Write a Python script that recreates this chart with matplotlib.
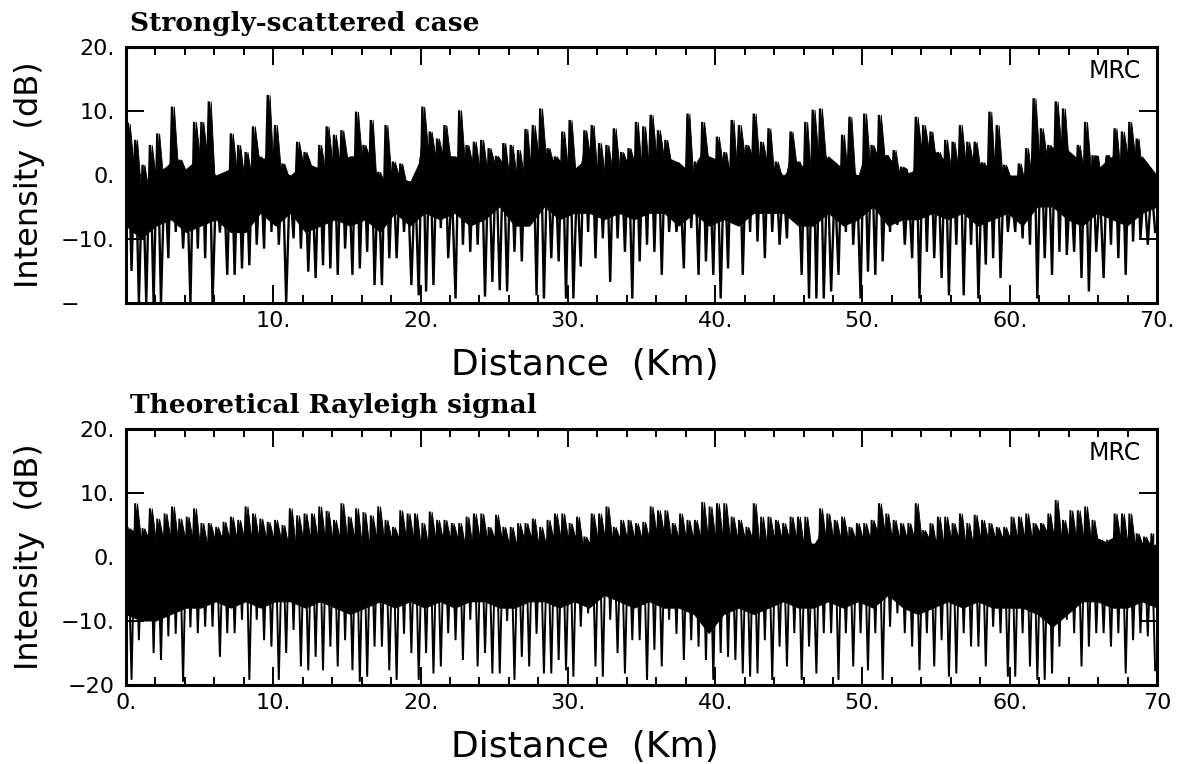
import matplotlib
matplotlib.use("Agg")
import matplotlib.pyplot as plt
from matplotlib.ticker import MultipleLocator
import numpy as np

# intensity (dB): max and min of the trace in each 0.5 km block, 0-70 km
top_hi = [8, 5.5, 1.6, 4.7, 6.5, 1, 10.7, 2.4, 0, 8.3,
          8.3, 11.5, -0.8, 0, 6.5, 4.7, 3.6, 7.6, 2.1, 12.5,
          7.8, 1.8, -1, 5.2, 3.6, 0, 4.7, 7.6, 6.3, 7.0,
          0.5, 9.9, 4.7, 8.6, 0.5, 7.8, 2.1, 1.8, -1, -0.3,
          10.7, 6.8, 5.7, 7.8, -2, 10.1, 4.7, 5.2, 5.5, 4.2,
          3, 5, 4.7, 3.9, 7.2, 7.8, 10.4, 4.2, 2.9, 6.8,
          8.6, 0, 7, 7.8, 5, 4.7, 7.3, 3.6, 4.2, 8.3,
          7.6, 9.4, 7, 5.5, -0.8, -1.6, 9.6, 2.1, 8.3, 2.1,
          6, 3.6, 8.6, 7.8, 4.7, 9.6, 5.2, 7.3, 2.1, -0.5,
          6.8, 2.1, 8.3, 10.2, 10.4, 2, -1, 6.3, 9.1, 0,
          9.6, 4.7, 9.4, 3.1, 3.9, 1.3, -1, 9.1, 7.8, 6.8,
          3.6, 5.5, 5.2, 7.8, 5.2, 5.2, 2, 9.9, 7.8, 1.6,
          -3, 1.8, 4.2, 12, 7.3, 4.7, 11.5, 10.4, -0.5, 4.7,
          8.3, 3.1, -2.1, 3.1, 7.3, 6.8, 8.3, 5.7, -1.6, -1.6]
top_lo = [-15, -20, -20, -20, -20, -13, -8.9, -11.5, -20, -11.5,
          -13, -20, -9, -15.6, -15.6, -14.6, -14.1, -10.9, -11.5, -8.9,
          -10.9, -20, -9.9, -11.5, -15.1, -16.1, -14.1, -14.6, -15.6, -11.5,
          -15.6, -14.6, -12, -17.2, -17.2, -13, -13, -8.9, -17.2, -18.8,
          -18.2, -17.2, -8.3, -13, -19.3, -10.9, -12, -10.9, -19, -16.7,
          -18, -18.2, -12, -13.5, -6.8, -18.8, -19.3, -13, -13.5, -19.3,
          -19.3, -14.3, -8.9, -13, -9.9, -16.7, -9.9, -12, -19.3, -13.5,
          -10.9, -12, -15.6, -8.9, -8.9, -14.6, -8.3, -15.6, -13.5, -15.6,
          -19.3, -14.6, -6, -15.6, -8.9, -10.4, -13, -8.9, -10.9, -9.9,
          -6.8, -15.6, -19.3, -19.3, -19.3, -18.2, -15.6, -8.9, -10.9, -19.3,
          -15.1, -15.6, -13.5, -8.9, -7.8, -10.9, -13, -19.3, -12, -13,
          -16.1, -18.8, -10.9, -18.8, -10.9, -19.3, -14, -13, -16.1, -8.9,
          -8.9, -9.9, -10.9, -19.3, -13, -15.6, -12, -12.5, -12, -16.1,
          -18.2, -12, -16.1, -10.9, -13, -15.6, -10.4, -9.9, -10.9, -8.9]
# solid black core of the trace, per 1 km
top_core_hi = [2, -2, 0, 2, 1, 3, 0, 1, 0, 3, 1, 0, 2, 1, 2, 3, 3, -1, 0, -1,
               4, 3, 3, 2, 1, 2, 0, 0, 3, 2, 1, 3, 0, 1, 2, 1, 3, 2, 0, 3,
               2, 0, 3, 2, 0, 2, 0, 3, 1, 0, 2, 3, 0, 1, 4, 2, 1, 2, 1, 0,
               0, -1, 3, 4, 2, 1, 3, 1, 3, 0]
top_core_lo = [-8, -10, -8, -7, -9, -8, -7, -9, -9, -6, -8, -6, -9, -8, -7, -8, -7, -9, -6, -8,
               -6, -7, -6, -8, -7, -5, -8, -8, -5, -7, -6, -6, -7, -6, -7, -6, -6, -8, -6, -8,
               -7, -8, -6, -6, -6, -8, -8, -6, -8, -7, -5, -8, -7, -7, -6, -7, -6, -8, -7, -6,
               -8, -5, -5, -7, -8, -6, -7, -8, -6, -5]

bot_hi = [4.5, 8.4, 4.5, 7.6, 6, 6.8, 7.9, 6, 6.3, 7.6,
          5.3, 5.3, 4.7, 5.5, 6.3, 5.8, 7.9, 6.8, 6, 5.5,
          5.8, 5, 7.6, 6.5, 6.8, 6.8, 7.9, 7.2, 5.8, 8.4,
          6.3, 7.6, 7.0, 6.5, 7.9, 5.8, 4.7, 7.3, 6.8, 6.8,
          5.3, 7.1, 5.8, 5.8, 5.3, 5.3, 6.3, 6.8, 6.8, 4.7,
          6.6, 4.7, 4.7, 5.3, 5.3, 6, 4.7, 5.8, 6.8, 6.8,
          5.3, 6.3, 3.2, 6.8, 6.8, 7.9, 4.7, 5.8, 5.8, 5.3,
          5.5, 7.9, 7.3, 7.3, 5.3, 6.8, 5.8, 5.8, 8.6, 7.9,
          8.4, 8.4, 6.3, 5.8, 4.7, 8.4, 6.3, 6.3, 5.8, 5.3,
          6.3, 6.3, 6.3, 2.1, 7.6, 6.8, 5.8, 6.3, 4.7, 5.3,
          5.3, 5.8, 8.4, 6.8, 5.8, 5.3, 5.3, 8.4, 4.2, 5.3,
          6.3, 6.3, 5.3, 6.8, 5.3, 6.6, 5.8, 5.3, 4.7, 4.7,
          6.3, 6.3, 6.8, 5.3, 5.3, 6.8, 8.9, 5.8, 7.3, 7.3,
          7.9, 5.8, 2.7, 2.7, 6.8, 6.8, 6.8, 3.7, 3.2, 3.7]
bot_lo = [-19.2, -13, -8.8, -15, -16.1, -12.4, -12, -19.5, -11, -11.9,
          -10.9, -10.9, -15.6, -11.9, -11.9, -9.8, -19.2, -9.8, -13, -14,
          -19.2, -15, -11.4, -17.1, -17.7, -15.6, -17.7, -14, -17.1, -13,
          -17.7, -19.5, -18.7, -14, -14, -17.7, -19.2, -12, -15, -19.2,
          -15, -18.2, -17.1, -11.9, -13, -16.1, -9.8, -17.1, -15, -18.2,
          -18.2, -10, -19.2, -15.6, -17.1, -12, -18.2, -18.2, -16.1, -17.7,
          -18.7, -10.9, -8.8, -17.1, -18.7, -9.8, -15, -18.2, -13, -13,
          -19.2, -14.5, -17.1, -9.8, -12, -16.1, -13, -14, -16.1, -19.2,
          -15, -15.6, -16.1, -18.2, -18.7, -18.2, -13, -19.2, -14, -17.1,
          -11.9, -19.2, -14, -18.2, -11.9, -11.9, -19.2, -11.9, -17.1, -11.9,
          -17.7, -11.9, -19.2, -10.9, -8.8, -11.9, -14, -17.7, -11.9, -17.1,
          -13, -18.7, -18.2, -11.9, -14, -14, -17.1, -10.9, -11.9, -18.7,
          -18.7, -11.9, -17.1, -19.2, -19.2, -18.2, -14, -9.8, -11.9, -17.1,
          -14, -11.9, -11.9, -14, -11.9, -18.2, -13, -11.9, -12.4, -17.7]
bot_core_hi = [4, 3, 3, 3, 3, 2, 3, 3, 3, 3, 3, 2, 3, 3, 3, 3, 2, 3, 3, 3,
               2, 3, 3, 2, 3, 3, 2, 3, 2, 3, 3, 2, 3, 3, 3, 3, 4, 3, 3, 3,
               3, 3, 3, 2, 3, 3, 2, 3, 3, 3, 3, 4, 3, 3, 3, 2, 3, 2, 3, 3,
               3, 3, 4, 3, 3, 3, 2, 3, 2, 2]
bot_core_lo = [-9, -10, -10, -9, -8, -8, -7, -8, -7, -8, -7, -7, -8, -7, -8, -9, -8, -7, -8, -7,
               -8, -7, -8, -7, -7, -8, -8, -7, -7, -8, -7, -8, -6, -7, -8, -7, -8, -8, -9, -12,
               -9, -8, -9, -8, -7, -8, -8, -7, -8, -7, -8, -6, -8, -9, -8, -7, -8, -7, -8, -8,
               -8, -9, -11, -9, -7, -7, -8, -8, -7, -8]

block_km = 0.5
core_km = 1.0
titles = ["Strongly-scattered case", "Theoretical Rayleigh signal"]
xtick_labels = [["", "10.", "20.", "30.", "40.", "50.", "60.", "70."],
                ["0.", "10.", "20.", "30.", "40.", "50.", "60.", "70"]]
ytick_labels = [["\u2212\u2007\u2007\u2008", "\u221210.", "0.", "10.", "20."],
                ["\u221220", "\u221210.", "0.", "10.", "20."]]

W, H = 1177, 764
fig = plt.figure(figsize=(W / 100, H / 100), dpi=100)
sans = "DejaVu Sans"

boxes = [(126, 47, 1157, 303), (126, 429, 1157, 685)]
series = [(top_hi, top_lo, top_core_hi, top_core_lo),
          (bot_hi, bot_lo, bot_core_hi, bot_core_lo)]

for i, ((x0, y0, x1, y1), (hi, lo, chi, clo)) in enumerate(zip(boxes, series)):
    ax = fig.add_axes([x0 / W, 1 - y1 / H, (x1 - x0) / W, (y1 - y0) / H])
    n = len(hi)
    start = np.arange(n) * block_km
    centre = start + block_km / 2
    xc = np.linspace(0, 70, len(chi))

    # ridge: each block's peak, with a notch down to the core top between blocks
    km_of_block = (start / core_km).astype(int)
    notch = np.array(chi)[km_of_block]
    rx = np.column_stack([start, centre]).ravel()
    ry = np.column_stack([notch, hi]).ravel()

    ax.fill_between(xc, chi, clo, color="black", lw=0)
    ax.fill_between(rx, ry, -3, color="black", lw=0.6, edgecolor="black")
    # drop-outs: stroke from each peak down to the block minimum
    xs = np.column_stack([start + 0.125, start + 0.375]).ravel()
    ys = np.column_stack([hi, lo]).ravel()
    ax.plot(xs, ys, color="black", lw=1.7 if i == 0 else 1.4,
            solid_joinstyle="miter")
    ax.set_xlim(0, 70)
    ax.set_ylim(-20, 20)

    ax.xaxis.set_minor_locator(MultipleLocator(2))
    ax.set_xticks(np.arange(0, 71, 10))
    ax.set_xticklabels(xtick_labels[i], fontfamily=sans, fontsize=16)
    ax.set_yticks(np.arange(-20, 21, 10))
    ax.set_yticklabels(ytick_labels[i], fontfamily=sans, fontsize=16)
    ax.tick_params(which="both", direction="in", top=True, right=True, width=1.4)
    ax.tick_params(which="major", length=13)
    ax.tick_params(which="minor", length=6)
    ax.tick_params(axis="x", pad=6)
    ax.tick_params(axis="y", pad=8)
    for s in ax.spines.values():
        s.set_linewidth(2.2)

    ax.text(0.984, 0.908, "MRC", transform=ax.transAxes, ha="right", va="center",
            fontfamily=sans, fontsize=17)

    fig.text(130 / W, 1 - (y0 - 16) / H, titles[i], ha="left", va="baseline",
             fontfamily="DejaVu Serif", fontweight="bold", fontsize=19)
    fig.text(30 / W, 1 - (y0 + y1) / 2 / H, "Intensity  (dB)", rotation=90,
             ha="center", va="center", fontfamily=sans, fontsize=23)
    fig.text(585 / W, 1 - (y1 + 62) / H, "Distance  (Km)", ha="center",
             va="center", fontfamily=sans, fontsize=26)

fig.savefig("out.png", dpi=100)
